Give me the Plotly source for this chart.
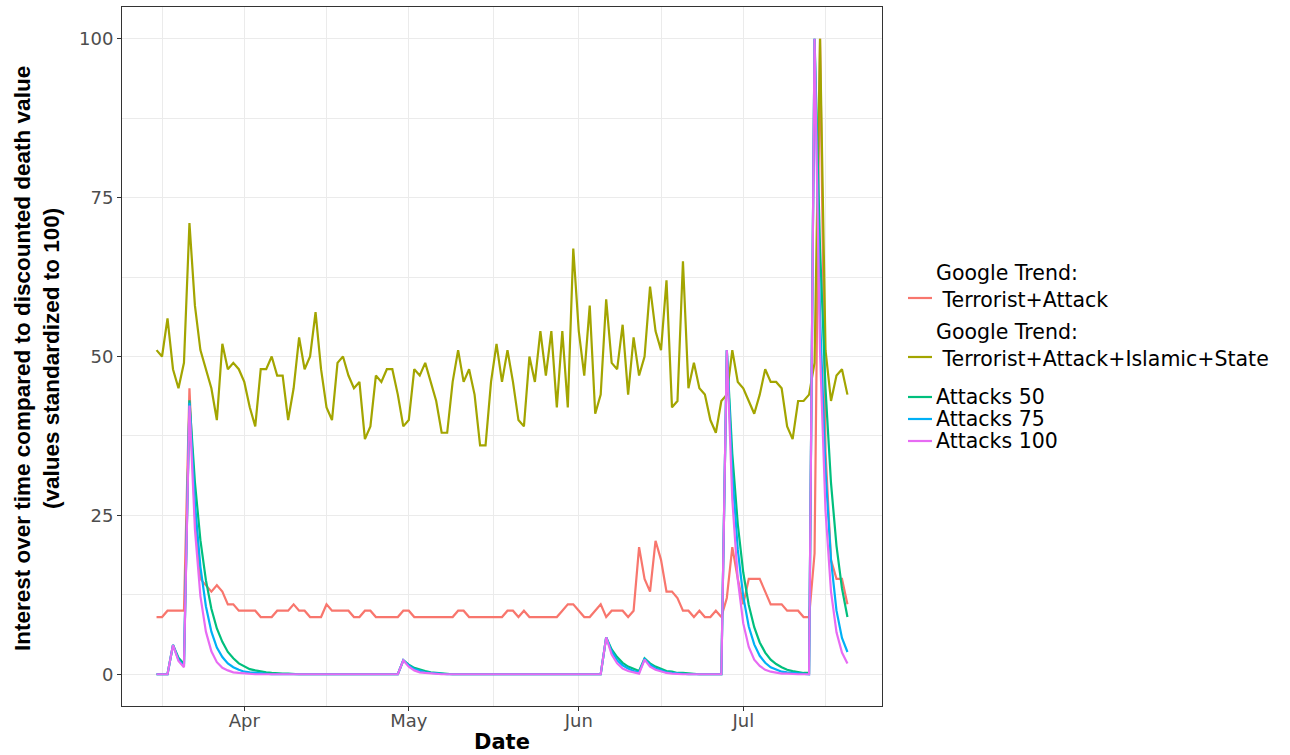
import pandas as pd
import plotly.graph_objects as go

# Daily observations, 16 March - 20 July 2016
dates = pd.date_range("2016-03-16", "2016-07-20", freq="D")

trend_attack = [
    9, 9, 10, 10, 10, 10, 45, 25, 15, 14,
    13, 14, 13, 11, 11, 10, 10, 10, 10, 9,
    9, 9, 10, 10, 10, 11, 10, 10, 9, 9,
    9, 11, 10, 10, 10, 10, 9, 9, 10, 10,
    9, 9, 9, 9, 9, 10, 10, 9, 9, 9,
    9, 9, 9, 9, 9, 10, 10, 9, 9, 9,
    9, 9, 9, 9, 10, 10, 9, 10, 9, 9,
    9, 9, 9, 9, 10, 11, 11, 10, 9, 9,
    10, 11, 9, 10, 10, 10, 9, 10, 20, 15,
    13, 21, 18, 13, 13, 12, 10, 10, 9, 10,
    9, 9, 10, 9, 12, 20, 15, 11, 15, 15,
    15, 13, 11, 11, 11, 10, 10, 10, 9, 9,
    19, 100, 35, 18, 15, 15, 11,
]

trend_attack_is = [
    51, 50, 56, 48, 45, 49, 71, 58, 51, 48,
    45, 40, 52, 48, 49, 48, 46, 42, 39, 48,
    48, 50, 47, 47, 40, 45, 53, 48, 50, 57,
    48, 42, 40, 49, 50, 47, 45, 46, 37, 39,
    47, 46, 48, 48, 44, 39, 40, 48, 47, 49,
    46, 43, 38, 38, 46, 51, 46, 48, 44, 36,
    36, 46, 52, 46, 51, 46, 40, 39, 50, 46,
    54, 47, 54, 42, 54, 42, 67, 54, 47, 58,
    41, 44, 59, 49, 48, 55, 44, 53, 47, 50,
    61, 54, 51, 62, 42, 43, 65, 45, 49, 45,
    44, 40, 38, 43, 44, 51, 46, 45, 43, 41,
    44, 48, 46, 46, 45, 39, 37, 43, 43, 44,
    49, 100, 51, 43, 47, 48, 44,
]

attacks_50 = [
    0, 0, 0, 4.6, 2.6, 1.6, 43.1, 30.2, 21.1, 14.8,
    10.3, 7.2, 5.1, 3.5, 2.5, 1.7, 1.2, 0.8, 0.6, 0.4,
    0.3, 0.2, 0.1, 0.1, 0.1, 0, 0, 0, 0, 0,
    0, 0, 0, 0, 0, 0, 0, 0, 0, 0,
    0, 0, 0, 0, 0, 2.2, 1.5, 1.0, 0.7, 0.5,
    0.3, 0.2, 0.1, 0.1, 0, 0, 0, 0, 0, 0,
    0, 0, 0, 0, 0, 0, 0, 0, 0, 0,
    0, 0, 0, 0, 0, 0, 0, 0, 0, 0,
    0, 0, 5.8, 3.9, 2.7, 1.8, 1.2, 0.8, 0.5, 2.5,
    1.7, 1.2, 0.8, 0.5, 0.4, 0.2, 0.2, 0.1, 0, 0,
    0, 0, 0, 0, 51.0, 34.7, 23.6, 16.0, 10.9, 7.4,
    5.0, 3.4, 2.3, 1.6, 1.1, 0.7, 0.5, 0.3, 0.2, 0.2,
    100, 67.0, 44.9, 30.1, 20.2, 13.5, 9.0,
]

attacks_75 = [
    0, 0, 0, 4.6, 2.3, 1.3, 42.7, 26.9, 16.9, 10.7,
    6.7, 4.2, 2.7, 1.7, 1.1, 0.7, 0.4, 0.3, 0.2, 0.1,
    0.1, 0, 0, 0, 0, 0, 0, 0, 0, 0,
    0, 0, 0, 0, 0, 0, 0, 0, 0, 0,
    0, 0, 0, 0, 0, 2.2, 1.4, 0.8, 0.5, 0.3,
    0.2, 0.1, 0.1, 0, 0, 0, 0, 0, 0, 0,
    0, 0, 0, 0, 0, 0, 0, 0, 0, 0,
    0, 0, 0, 0, 0, 0, 0, 0, 0, 0,
    0, 0, 5.8, 3.6, 2.2, 1.4, 0.9, 0.5, 0.3, 2.4,
    1.5, 0.9, 0.6, 0.3, 0.2, 0.1, 0.1, 0, 0, 0,
    0, 0, 0, 0, 51.0, 31.6, 19.6, 12.2, 7.5, 4.7,
    2.9, 1.8, 1.1, 0.7, 0.4, 0.3, 0.2, 0.1, 0.1, 0,
    100, 56.5, 32.0, 18.0, 10.0, 5.7, 3.5,
]

attacks_100 = [
    0, 0, 0, 4.6, 2.1, 1.1, 42.3, 22.8, 12.3, 6.7,
    3.6, 1.9, 1.0, 0.6, 0.3, 0.2, 0.1, 0, 0, 0,
    0, 0, 0, 0, 0, 0, 0, 0, 0, 0,
    0, 0, 0, 0, 0, 0, 0, 0, 0, 0,
    0, 0, 0, 0, 0, 2.2, 1.2, 0.6, 0.3, 0.2,
    0.1, 0, 0, 0, 0, 0, 0, 0, 0, 0,
    0, 0, 0, 0, 0, 0, 0, 0, 0, 0,
    0, 0, 0, 0, 0, 0, 0, 0, 0, 0,
    0, 0, 5.8, 3.1, 1.7, 0.9, 0.5, 0.3, 0.1, 2.3,
    1.2, 0.7, 0.4, 0.2, 0.1, 0, 0, 0, 0, 0,
    0, 0, 0, 0, 51.0, 27.5, 14.9, 8.0, 4.3, 2.3,
    1.3, 0.7, 0.4, 0.2, 0.1, 0.1, 0, 0, 0, 0,
    100, 50.7, 25.7, 13.0, 6.6, 3.4, 1.7,
]

series = [
    ("Google Trend:<br>\u00a0Terrorist+Attack", trend_attack, "#F8766D"),
    ("Google Trend:<br>\u00a0Terrorist+Attack+Islamic+State", trend_attack_is, "#A3A500"),
    ("Attacks 50", attacks_50, "#00BF7D"),
    ("Attacks 75", attacks_75, "#00B0F6"),
    ("Attacks 100", attacks_100, "#E76BF3"),
]

month_ticks = ["2016-04-01", "2016-05-01", "2016-06-01", "2016-07-01"]
month_labels = ["Apr", "May", "Jun", "Jul"]
minor_x = ["2016-03-17", "2016-04-16", "2016-05-16 12:00", "2016-06-16", "2016-07-16"]
y_ticks = [0, 25, 50, 75, 100]

W, H = 1290, 755
L, R, T, B = 122, 882, 7, 706  # panel edges in pixels


def px_x(px):
    return (px - L) / (R - L)


def px_y(py):
    return (B - py) / (B - T)


fig = go.Figure()
for label, vals, color in series:
    fig.add_trace(go.Scatter(
        x=dates, y=vals, mode="lines", name=label.replace("<br>", " "),
        line=dict(color=color, width=2.2), showlegend=False,
    ))

tick_font = dict(family="DejaVu Sans", size=18, color="#4D4D4D")
axis_common = dict(
    showline=True, mirror=True, linecolor="#333333", linewidth=1,
    ticks="outside", ticklen=4, tickcolor="#333333", tickwidth=1,
    gridcolor="#EBEBEB", gridwidth=1.2, zeroline=False, tickfont=tick_font,
)

fig.update_layout(
    width=W, height=H,
    margin=dict(l=L, r=W - R, t=T, b=H - B),
    paper_bgcolor="white", plot_bgcolor="white",
    xaxis=dict(
        type="date",
        range=["2016-03-09 16:48", "2016-07-26 07:12"],
        tickmode="array", tickvals=month_ticks, ticktext=month_labels,
        ticklabelstandoff=-6,
        minor=dict(tickmode="array", tickvals=minor_x, showgrid=True,
                   gridcolor="#EBEBEB", gridwidth=0.8, ticks=""),
        **axis_common,
    ),
    yaxis=dict(
        range=[-5, 105],
        tickmode="array", tickvals=y_ticks, ticktext=[str(v) for v in y_ticks],
        minor=dict(tickmode="array", tickvals=[12.5, 37.5, 62.5, 87.5], showgrid=True,
                   gridcolor="#EBEBEB", gridwidth=0.8, ticks=""),
        **axis_common,
    ),
)

# axis titles
fig.add_annotation(
    text="<b>Date</b>", xref="paper", yref="paper", x=0.5, y=px_y(742),
    xanchor="center", yanchor="middle", showarrow=False,
    font=dict(family="DejaVu Sans", size=21, color="black"),
)
title_font = dict(family="Liberation Sans", size=22.5, color="black")
for text, cx in [("<b>Interest over time compared to discounted death value</b>", 22),
                 ("<b>(values standardized to 100)</b>", 51)]:
    fig.add_annotation(
        text=text, xref="paper", yref="paper", x=px_x(cx), y=px_y(359),
        xanchor="center", yanchor="middle", textangle=-90, showarrow=False,
        font=title_font,
    )

# legend: key lines and labels (label centre, key line height)
legend_font = dict(family="DejaVu Sans", size=20.5, color="black")
legend_rows = [
    (0, 286, 298),
    (1, 345, 357),
    (2, 397, 397),
    (3, 419, 419),
    (4, 441, 441),
]
for idx, label_y, key_y in legend_rows:
    label, _, color = series[idx]
    fig.add_shape(
        type="line", xref="paper", yref="paper",
        x0=px_x(908), x1=px_x(932), y0=px_y(key_y), y1=px_y(key_y),
        line=dict(color=color, width=2.2),
    )
    fig.add_annotation(
        text=label, xref="paper", yref="paper", x=px_x(934), y=px_y(label_y),
        xanchor="left", yanchor="middle", align="left", showarrow=False,
        font=legend_font,
    )

fig.write_html("out.html")
